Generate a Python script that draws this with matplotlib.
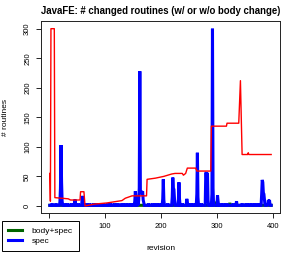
import numpy as np
import matplotlib
matplotlib.use("Agg")
import matplotlib.pyplot as plt
from matplotlib.lines import Line2D

plt.rcParams["font.family"] = ["Liberation Sans", "DejaVu Sans"]

# revisions 1..397
n_rev = 397
base_val = 1

# spec : valeurs hors ligne de base
spec_rev = [5, 12, 19, 20, 21, 22, 23, 27, 33, 40, 46, 47, 52, 59, 60, 66, 72, 79, 85,
            91, 97, 104, 110, 117, 123, 130, 136, 142, 148,
            153, 154, 155, 158, 160, 161, 162, 163, 164, 165, 166, 167, 168, 169,
            178, 185, 191, 197, 203, 204, 205, 212, 220, 221, 222, 223, 224,
            231, 232, 233, 238, 246, 247, 252, 258, 264, 265, 266, 272,
            280, 281, 282, 283, 284, 288, 291, 292, 293, 301, 302, 306, 312, 318,
            329, 335, 345, 352, 358, 364, 370, 376, 380, 381, 382, 383, 384, 385,
            390, 392, 393, 394]
spec_val = [4, 4, 6, 30, 103, 40, 8, 4, 4, 4, 11, 4, 4, 17, 6, 4, 4, 4, 4,
            4, 4, 4, 4, 4, 4, 4, 4, 4, 4,
            8, 25, 12, 6, 10, 30, 228, 25, 20, 25, 22, 25, 10, 6,
            4, 4, 4, 4, 12, 45, 10, 4, 15, 48, 30, 28, 12,
            10, 40, 12, 4, 12, 6, 4, 4, 20, 90, 15, 4,
            55, 57, 25, 56, 10, 4, 20, 300, 30, 18, 8, 4, 4, 4,
            4, 8, 4, 4, 4, 4, 4, 4, 20, 44, 40, 22, 20, 10,
            4, 10, 8, 10]

# body+spec
body_rev = [298, 323]
body_val = [3, 5]

# courbe rouge
red_rev = [1, 2, 3, 9, 10, 34, 38, 55, 56, 62, 64, 70, 80, 103, 130, 136, 148, 174, 175, 190,
           205, 219, 225, 238, 240, 244, 247, 262, 264, 289, 290, 317, 318, 339, 342,
           345, 355, 356, 357, 397]
red_val = [55, 8, 300, 300, 14, 12, 10, 10, 24, 24, 0, 1, 3, 5, 9, 13, 17, 17, 45, 47,
           50, 54, 55, 55, 52, 55, 64, 64, 59, 59, 135, 135, 140, 140, 212,
           87, 87, 90, 87, 87]

x_ticks = [0, 100, 200, 300, 400]
x_ticklabels = ["", "100", "200", "300", "400"]  # le "0" est masqué par la légende
y_ticks = [0, 50, 100, 150, 200, 250, 300]

revs = np.arange(1, n_rev + 1)
spec = np.full(n_rev, base_val, dtype=float)
spec[np.array(spec_rev) - 1] = spec_val
body = np.full(n_rev, base_val, dtype=float)
body[np.array(body_rev) - 1] = body_val

fig = plt.figure(figsize=(2.94, 2.54), dpi=100)
ax = fig.add_axes([41 / 294, 41 / 254, 239 / 294, 192 / 254])

ax.plot(revs, body, color="#006400", lw=2.2, solid_joinstyle="miter")
ax.plot(revs, spec, color="#0000FF", lw=2.2, solid_joinstyle="miter")
ax.plot(red_rev, red_val, color="#FF0000", lw=1.0)

ax.set_xlim(-14.8, 412.8)
ax.set_ylim(-12, 313)
ax.set_xticks(x_ticks)
ax.set_xticklabels(x_ticklabels)
ax.set_yticks(y_ticks)
ax.tick_params(direction="out", length=3.6, width=0.6, labelsize=5.5, pad=3.5)
for lab in ax.get_yticklabels():
    lab.set_rotation(90)
    lab.set_va("center")
for sp in ax.spines.values():
    sp.set_linewidth(0.7)
    sp.set_color("#222222")

fig.text(160.5 / 294, 1 - 11 / 254, "JavaFE: # changed routines (w/ or w/o body change)",
         ha="center", va="center", fontsize=6.9, fontweight="bold")
fig.text(160.5 / 294, 1 - 249 / 254, "revision", ha="center", va="center", fontsize=6)
fig.text(6 / 294, 1 - 117 / 254, "# routines", ha="center", va="center", fontsize=6,
         rotation=90)

handles = [Line2D([], [], color="#006400", lw=2.2),
           Line2D([], [], color="#0000FF", lw=2.2)]
leg = fig.legend(handles, ["body+spec", "spec"], loc="upper left",
                 bbox_to_anchor=(2 / 294, 1 - 221 / 254), borderaxespad=0,
                 fontsize=6, handlelength=1.7, handletextpad=1.1, borderpad=0.75,
                 labelspacing=0.25, fancybox=False, framealpha=1)
leg.get_frame().set_edgecolor("black")
leg.get_frame().set_linewidth(0.7)

fig.savefig("out.png", dpi=100)
